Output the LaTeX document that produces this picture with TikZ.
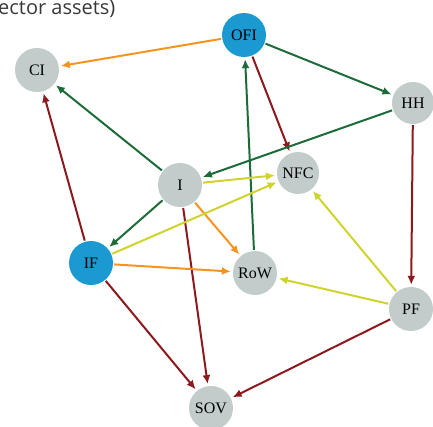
\documentclass[tikz,border=0pt]{standalone}
\usepackage{fontspec}
\setmainfont{Liberation Serif}
\newfontfamily\titlefont{Open Sans}
\usetikzlibrary{arrows.meta}
\definecolor{ngrey}{HTML}{C1CCCB}
\definecolor{nblue}{HTML}{1B9AD2}
\definecolor{egreen}{HTML}{1D6B38}
\definecolor{eorange}{HTML}{F7931E}
\definecolor{ered}{HTML}{8B1A1F}
\definecolor{eyellow}{HTML}{CFD42C}
\begin{document}
\begin{tikzpicture}[x=1pt,y=-1pt,
  sector/.style={circle,fill=ngrey,minimum size=44pt,inner sep=0pt,font=\fontsize{16}{16}\selectfont},
  bsector/.style={sector,fill=nblue},
  edge/.style={line width=2pt,-{Latex[length=9pt,width=8pt]},shorten >=2pt,shorten <=1pt},
  g/.style={edge,draw=egreen},
  o/.style={edge,draw=eorange},
  r/.style={edge,draw=ered},
  yl/.style={edge,draw=eyellow}]
\useasboundingbox (0,0) rectangle (433,426);
\node[anchor=base west,inner sep=0pt,text=black!78,font=\titlefont\fontsize{20}{20}\selectfont] (title) at (-2,14) {ector assets)};
\node[sector] (CI) at (37,70) {CI};
\node[bsector] (OFI) at (244,35) {OFI};
\node[sector,minimum size=42pt] (HH) at (413,103) {HH};
\node[sector] (I) at (180,185) {I};
\node[sector,minimum size=42pt] (NFC) at (298,173) {NFC};
\node[bsector] (IF) at (91,263) {IF};
\node[sector] (RoW) at (255,273) {RoW};
\node[sector] (PF) at (411,309) {PF};
\node[sector] (SOV) at (211,408) {SOV};
\draw[o] (OFI) -- (CI);
\draw[g] (I) -- (CI);
\draw[r] (IF) -- (CI);
\draw[g] (OFI) -- (HH);
\draw[r] (OFI) -- (NFC);
\draw[g] (RoW) -- (OFI);
\draw[g] (HH) -- (I);
\draw[r] (HH) -- (PF);
\draw[yl] (I) -- (NFC);
\draw[g] (I) -- (IF);
\draw[o] (I) -- (RoW);
\draw[r] (I) -- (SOV);
\draw[yl] (IF) -- (NFC);
\draw[o] (IF) -- (RoW);
\draw[r] (IF) -- (SOV);
\draw[yl] (PF) -- (NFC);
\draw[yl] (PF) -- (RoW);
\draw[r] (PF) -- (SOV);
\end{tikzpicture}
\end{document}
